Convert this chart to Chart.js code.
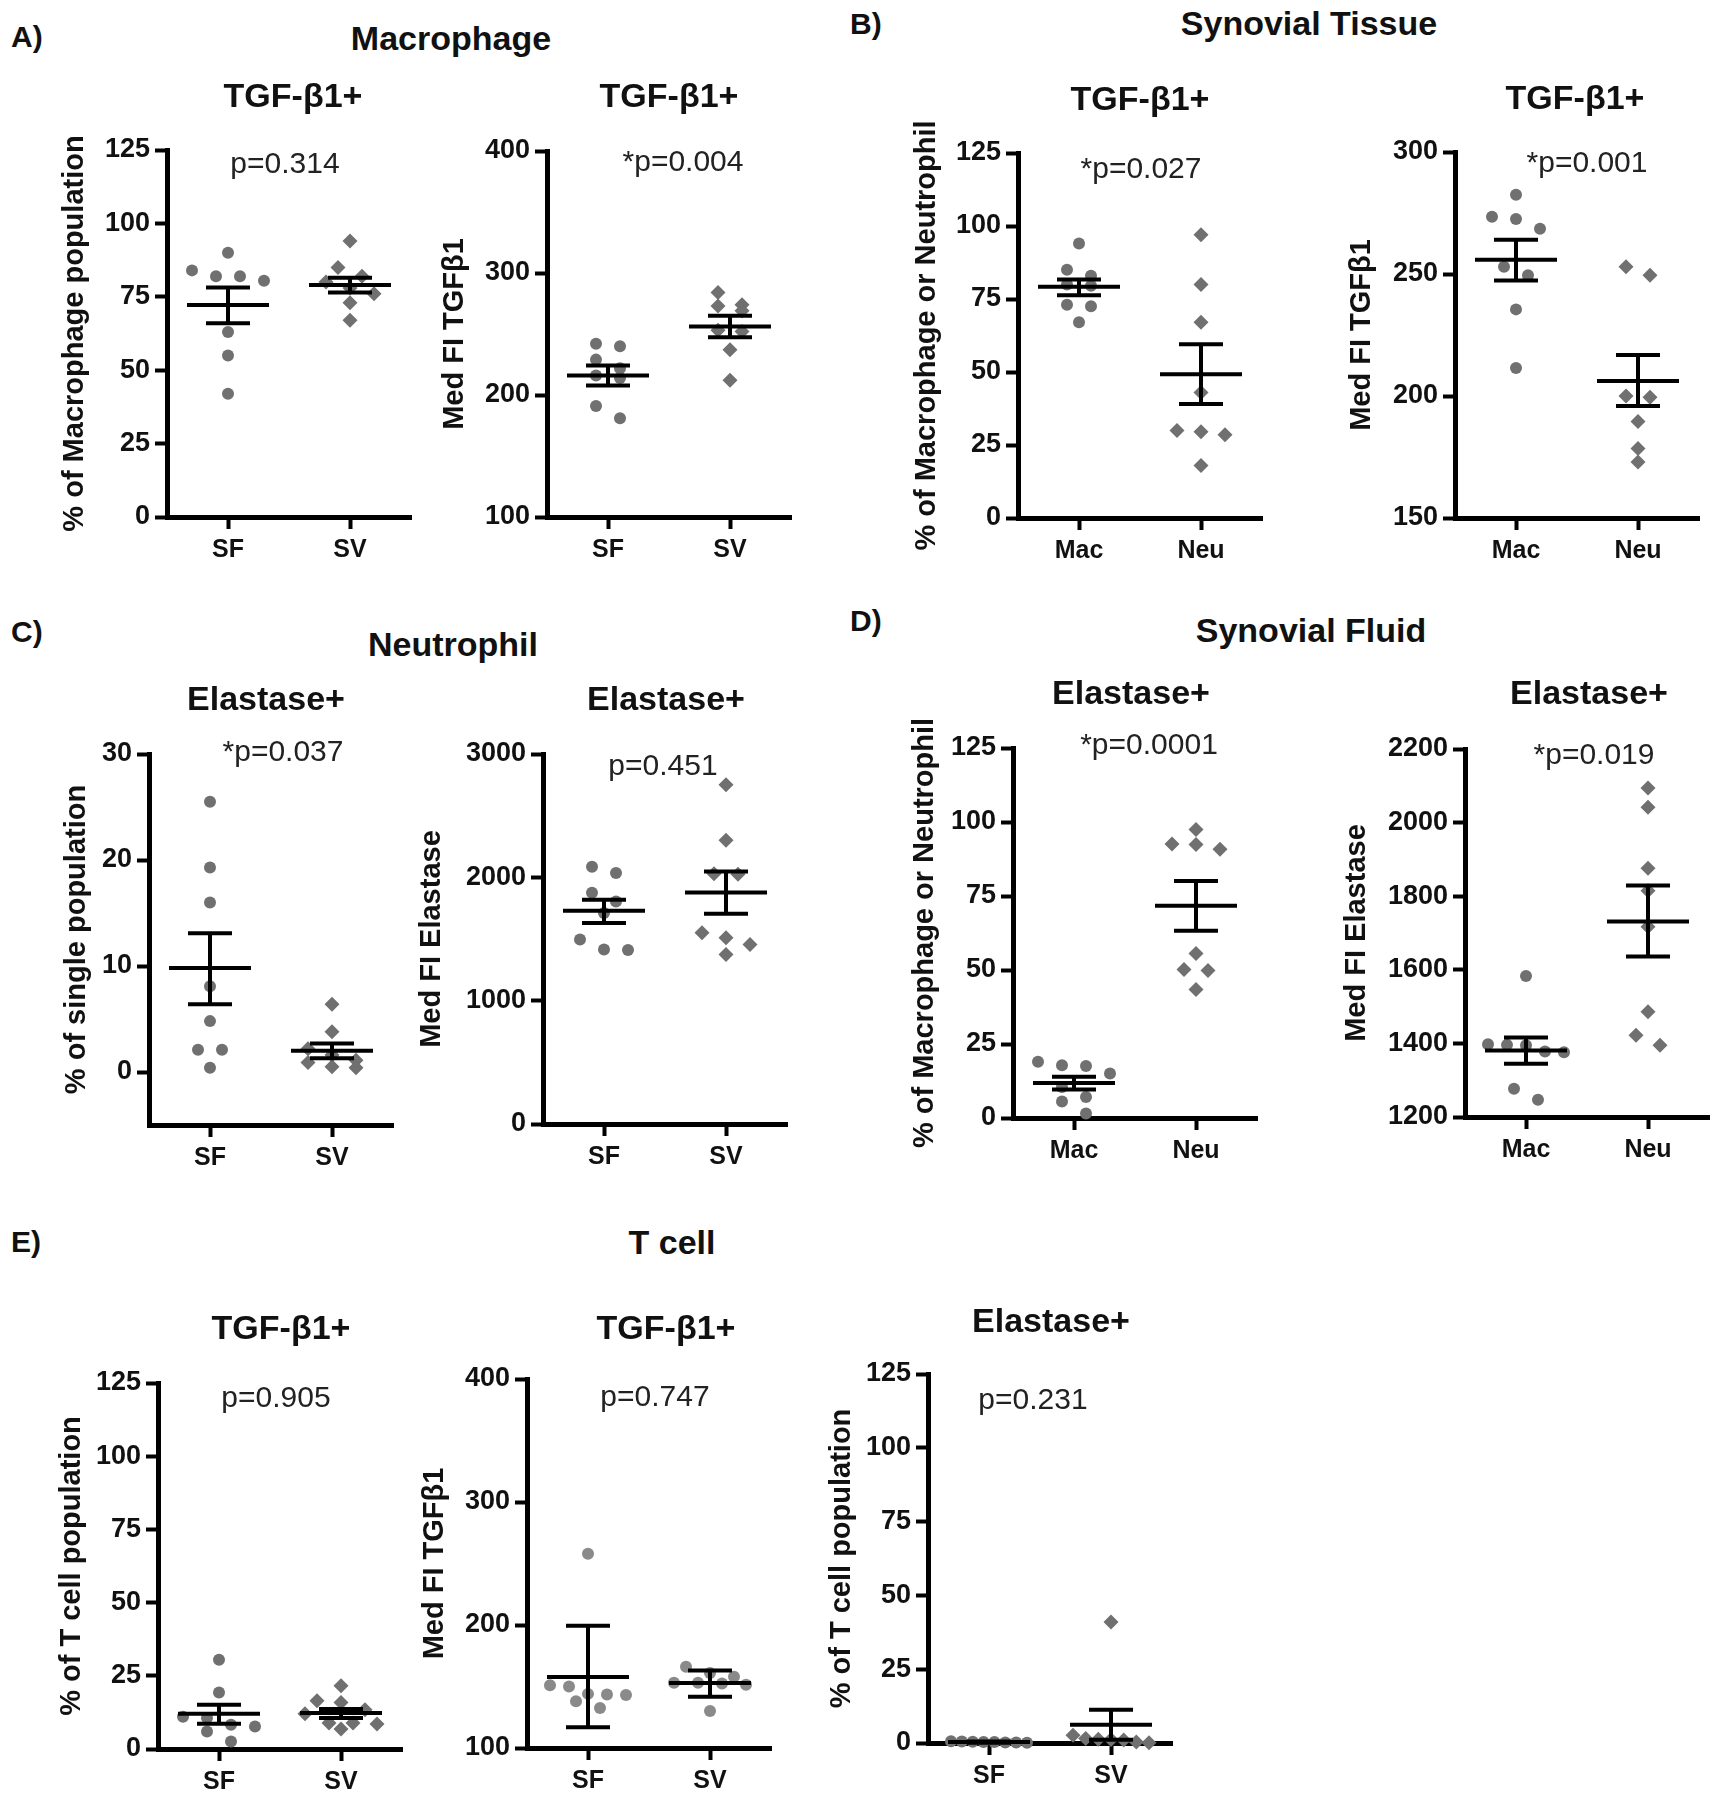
<!DOCTYPE html>
<html>
<head>
<meta charset="utf-8">
<script src="https://cdn.jsdelivr.net/npm/chart.js@4.4.0/dist/chart.umd.min.js"></script>
<style>
  body { margin: 0; background: #fff; }
  #fig { position: relative; width: 1720px; height: 1800px; overflow: hidden;
         font-family: "Liberation Sans", Arial, sans-serif; color: #111; }
  .lbl { position: absolute; white-space: nowrap; line-height: 1; transform: translate(-50%, -50%); }
  .letter { font-size: 30px; font-weight: bold; transform: translate(0, -50%); }
  .group { font-size: 34px; font-weight: bold; }
  .ptitle { font-size: 34px; font-weight: bold; }
  .pval { font-size: 30px; color: #222; }
  canvas { position: absolute; }
</style>
</head>
<body>
<div id="fig"></div>
<script>
// categories
const sfSv = ['SF', 'SV'];
const macNeu = ['Mac', 'Neu'];

// y tick labels
const pctTicks = [0, 25, 50, 75, 100, 125];
const mfiTgfTicks = [100, 200, 300, 400];
const stMfiTicks = [150, 200, 250, 300];
const singleTicks = [0, 10, 20, 30];
const elaTicks = [0, 1000, 2000, 3000];
const sfElaTicks = [1200, 1400, 1600, 1800, 2000, 2200];

// A) macrophage TGF-b1+ %
const macPctSF = [90, 84, 82, 82, 80.5, 63, 55, 42];
const macPctSV = [94, 85, 82, 80, 78, 76, 73, 67];
const macPctMean = [72.2, 79.0];
const macPctErr = [[66.0, 78.2], [76.5, 81.5]];
// A) macrophage TGF-b1 MFI
const macMfiSF = [242, 240, 229, 222, 216, 214, 191, 181];
const macMfiSV = [284, 274, 273, 269, 253, 252, 237, 212];
const macMfiMean = [216, 256.2];
const macMfiErr = [[207.8, 224.2], [247.4, 264.9]];
// B) synovial tissue TGF-b1+ %
const stPctMac = [94, 85, 83, 80, 79.5, 73, 72.5, 67];
const stPctNeu = [97, 80, 67, 43, 30, 29.5, 28.5, 18];
const stPctMean = [79.2, 49.2];
const stPctErr = [[76.3, 81.7], [39, 59.5]];
// B) synovial tissue TGF-b1 MFI
const stMfiMac = [282.5, 273.5, 272.5, 268.5, 253, 249.5, 235.5, 211.5];
const stMfiNeu = [253, 249.5, 200, 199.5, 189.5, 178.5, 173];
const stMfiMean = [255.8, 206.1];
const stMfiErr = [[247.3, 264], [195.9, 216.8]];
// C) neutrophil elastase+ %
const neuPctSF = [25.5, 19.3, 16, 8.1, 4.8, 2.1, 2.1, 0.4];
const neuPctSV = [6.4, 3.8, 2.2, 1.6, 1.1, 0.9, 0.5, 0.4];
const neuPctMean = [9.8, 2.0];
const neuPctErr = [[6.4, 13.1], [1.3, 2.7]];
// C) neutrophil elastase MFI
const neuMfiSF = [2085, 2035, 1875, 1805, 1710, 1495, 1415, 1410];
const neuMfiSV = [2750, 2300, 2030, 2025, 1550, 1510, 1455, 1375];
const neuMfiMean = [1729, 1878];
const neuMfiErr = [[1630, 1819], [1705, 2048]];
// D) synovial fluid elastase+ %
const sfPctMac = [19, 17.8, 17.6, 15, 10.5, 7.1, 5.6, 1.5];
const sfPctNeu = [97.5, 92.6, 92.4, 90.8, 55.6, 50.2, 49.8, 43.4];
const sfPctMean = [11.8, 71.7];
const sfPctErr = [[9.6, 13.9], [63.3, 80.1]];
// D) synovial fluid elastase MFI
const sfMfiMac = [1583, 1398, 1396, 1395, 1378, 1376, 1277, 1247];
const sfMfiNeu = [2094, 2042, 1876, 1815, 1717, 1486, 1422, 1395];
const sfMfiMean = [1381, 1731];
const sfMfiErr = [[1345, 1416], [1636, 1829]];
// E) T cell TGF-b1+ %
const tPctSF = [30.5, 19.3, 11, 10.6, 8.3, 7.7, 6.0, 2.6];
const tPctSV = [21.6, 16.5, 15.9, 13.4, 12, 8.9, 8.9, 8.5, 6.8];
const tPctMean = [12.0, 12.3];
const tPctErr = [[8.6, 15.1], [10.6, 13.7]];
// E) T cell TGF-b1 MFI
const tMfiSF = [258, 151, 150, 144, 143.5, 143, 138, 132.5];
const tMfiSV = [166, 161, 158, 153, 153, 152.5, 151.5, 130];
const tMfiMean = [157.7, 152.8];
const tMfiErr = [[116.8, 199.4], [141.7, 163]];
// E) T cell elastase+ %
const tElaSF = [0.6, 0.5, 0.4, 0.3, 0.3, 0.2, 0.2, 0.1];
const tElaSV = [41, 2.6, 1.5, 1.3, 1.2, 1.0, 0.3, 0.1];
const tElaMean = [0.3, 6.2];
const tElaErr = [[0.1, 0.5], [1.1, 11.3]];

const panels = [
  { axisX: 167, top: 150, bottom: 517, yMin: 0, yMax: 125, ticks: pctTicks, yTitle: '% of Macrophage population', titleOff: 92,
    cats: sfSv, groups: [macPctSF, macPctSV], mean: macPctMean, err: macPctErr,
    title: 'TGF-β1+', tx: 293, ty: 95, p: 'p=0.314', px: 285, py: 163 },
  { axisX: 547, top: 151, bottom: 517, yMin: 100, yMax: 400, ticks: mfiTgfTicks, yTitle: 'Med FI TGFβ1', titleOff: 92,
    cats: sfSv, groups: [macMfiSF, macMfiSV], mean: macMfiMean, err: macMfiErr,
    title: 'TGF-β1+', tx: 669, ty: 95, p: '*p=0.004', px: 683, py: 161 },
  { axisX: 1018, top: 153, bottom: 518, yMin: 0, yMax: 125, ticks: pctTicks, yTitle: '% of Macrophage or Neutrophil', titleOff: 91,
    cats: macNeu, groups: [stPctMac, stPctNeu], mean: stPctMean, err: stPctErr,
    title: 'TGF-β1+', tx: 1140, ty: 98, p: '*p=0.027', px: 1141, py: 168 },
  { axisX: 1455, top: 152, bottom: 518, yMin: 150, yMax: 300, ticks: stMfiTicks, yTitle: 'Med FI TGFβ1', titleOff: 93,
    cats: macNeu, groups: [stMfiMac, stMfiNeu], mean: stMfiMean, err: stMfiErr,
    title: 'TGF-β1+', tx: 1575, ty: 97, p: '*p=0.001', px: 1587, py: 162 },
  { axisX: 149, top: 754, bottom: 1125, yMin: -5, yMax: 30, ticks: singleTicks, yTitle: '% of single population', titleOff: 72,
    cats: sfSv, groups: [neuPctSF, neuPctSV], mean: neuPctMean, err: neuPctErr,
    title: 'Elastase+', tx: 266, ty: 698, p: '*p=0.037', px: 283, py: 751 },
  { axisX: 543, top: 754, bottom: 1124, yMin: 0, yMax: 3000, ticks: elaTicks, yTitle: 'Med FI Elastase', titleOff: 111,
    cats: sfSv, groups: [neuMfiSF, neuMfiSV], mean: neuMfiMean, err: neuMfiErr,
    title: 'Elastase+', tx: 666, ty: 698, p: 'p=0.451', px: 663, py: 765 },
  { axisX: 1013, top: 748, bottom: 1118, yMin: 0, yMax: 125, ticks: pctTicks, yTitle: '% of Macrophage or Neutrophil', titleOff: 88,
    cats: macNeu, groups: [sfPctMac, sfPctNeu], mean: sfPctMean, err: sfPctErr,
    title: 'Elastase+', tx: 1131, ty: 692, p: '*p=0.0001', px: 1149, py: 744 },
  { axisX: 1465, top: 749, bottom: 1117, yMin: 1200, yMax: 2200, ticks: sfElaTicks, yTitle: 'Med FI Elastase', titleOff: 108,
    cats: macNeu, groups: [sfMfiMac, sfMfiNeu], mean: sfMfiMean, err: sfMfiErr,
    title: 'Elastase+', tx: 1589, ty: 692, p: '*p=0.019', px: 1594, py: 754 },
  { axisX: 158, top: 1383, bottom: 1749, yMin: 0, yMax: 125, ticks: pctTicks, yTitle: '% of T cell population', titleOff: 86,
    cats: sfSv, groups: [tPctSF, tPctSV], mean: tPctMean, err: tPctErr,
    title: 'TGF-β1+', tx: 281, ty: 1327, p: 'p=0.905', px: 276, py: 1397 },
  { axisX: 527, top: 1379, bottom: 1748, yMin: 100, yMax: 400, ticks: mfiTgfTicks, yTitle: 'Med FI TGFβ1', titleOff: 92,
    cats: sfSv, groups: [tMfiSF, tMfiSV], mean: tMfiMean, err: tMfiErr, shapes: ['circle', 'circle'], color: '#8a8a8a',
    title: 'TGF-β1+', tx: 666, ty: 1327, p: 'p=0.747', px: 655, py: 1396 },
  { axisX: 928, top: 1374, bottom: 1743, yMin: 0, yMax: 125, ticks: pctTicks, yTitle: '% of T cell population', titleOff: 86,
    cats: sfSv, groups: [tElaSF, tElaSV], mean: tElaMean, err: tElaErr,
    title: 'Elastase+', tx: 1051, ty: 1320, p: 'p=0.231', px: 1033, py: 1399 }
];

const texts = [
  { t: 'A)', x: 11, y: 37, cls: 'letter' },
  { t: 'Macrophage', x: 451, y: 38, cls: 'group' },
  { t: 'B)', x: 850, y: 24, cls: 'letter' },
  { t: 'Synovial Tissue', x: 1309, y: 23, cls: 'group' },
  { t: 'C)', x: 11, y: 632, cls: 'letter' },
  { t: 'Neutrophil', x: 453, y: 644, cls: 'group' },
  { t: 'D)', x: 850, y: 621, cls: 'letter' },
  { t: 'Synovial Fluid', x: 1311, y: 630, cls: 'group' },
  { t: 'E)', x: 11, y: 1242, cls: 'letter' },
  { t: 'T cell', x: 672, y: 1242, cls: 'group' }
];

const fig = document.getElementById('fig');
function addText(t, x, y, cls) {
  const d = document.createElement('div');
  d.className = 'lbl ' + cls;
  d.textContent = t;
  d.style.left = x + 'px';
  d.style.top = y + 'px';
  fig.appendChild(d);
}
texts.forEach(o => addText(o.t, o.x, o.y, o.cls));

Chart.defaults.font.family = '"Liberation Sans", Arial, sans-serif';
Chart.defaults.color = '#111';

const X_PX = 122;      // pixels per category step
const PAD_TOP = 60;
const X_H = 50;

// spread points of similar value side by side, like a column scatter
function swarm(values, pxPerUnit) {
  const order = values.map((v, i) => i).sort((a, b) => values[b] - values[a]);
  const offs = new Array(values.length).fill(0);
  let k = 0;
  while (k < order.length) {
    const head = values[order[k]];
    let j = k;
    while (j < order.length && (head - values[order[j]]) * pxPerUnit < 13) j++;
    const n = j - k;
    const gap = n > 1 ? Math.min(24, 76 / (n - 1)) : 0;
    for (let m = 0; m < n; m++) offs[order[k + m]] = (m - (n - 1) / 2) * gap / X_PX;
    k = j;
  }
  return offs;
}

function meanSemBars(mean, err) {
  return {
    id: 'meanSemBars',
    afterDatasetsDraw(chart) {
      const { ctx, scales: { x, y } } = chart;
      ctx.save();
      ctx.strokeStyle = '#000';
      ctx.lineWidth = 4;
      mean.forEach((m, i) => {
        const px = x.getPixelForValue(i + 1);
        const yl = y.getPixelForValue(err[i][0]);
        const yh = y.getPixelForValue(err[i][1]);
        const ym = y.getPixelForValue(m);
        ctx.beginPath();
        ctx.moveTo(px, yl); ctx.lineTo(px, yh);
        ctx.moveTo(px - 22, yl); ctx.lineTo(px + 22, yl);
        ctx.moveTo(px - 22, yh); ctx.lineTo(px + 22, yh);
        ctx.moveTo(px - 41, ym); ctx.lineTo(px + 41, ym);
        ctx.stroke();
      });
      ctx.restore();
    }
  };
}

panels.forEach(p => {
  const yw = p.titleOff + 21;
  const cv = document.createElement('canvas');
  const w = yw + 2 * X_PX + 12;
  const h = PAD_TOP + (p.bottom - p.top) + X_H;
  cv.width = w; cv.height = h;
  cv.style.width = w + 'px'; cv.style.height = h + 'px';
  cv.style.left = (p.axisX - yw) + 'px';
  cv.style.top = (p.top - PAD_TOP) + 'px';
  fig.appendChild(cv);

  addText(p.title, p.tx, p.ty, 'ptitle');
  addText(p.p, p.px, p.py, 'pval');

  const pxPerY = (p.bottom - p.top) / (p.yMax - p.yMin);
  const shapes = p.shapes || ['circle', 'rectRot'];
  const color = p.color || '#707070';
  const datasets = p.groups.map((vals, g) => {
    const offs = swarm(vals, pxPerY);
    return {
      data: vals.map((v, i) => ({ x: g + 1 + offs[i], y: v })),
      pointStyle: shapes[g],
      pointRadius: shapes[g] === 'circle' ? 6 : 7.5,
      backgroundColor: color,
      borderWidth: 0,
      clip: false
    };
  });

  new Chart(cv.getContext('2d'), {
    type: 'scatter',
    data: { datasets },
    options: {
      responsive: false,
      animation: false,
      layout: { padding: { top: PAD_TOP, right: 12, left: 0, bottom: 0 } },
      plugins: { legend: { display: false }, tooltip: { enabled: false } },
      scales: {
        x: {
          type: 'linear', min: 0.5, max: 2.5,
          afterBuildTicks: s => { s.ticks = [{ value: 1 }, { value: 2 }]; },
          afterFit: s => { s.height = X_H; },
          ticks: { callback: v => p.cats[Math.round(v) - 1], font: { size: 25, weight: 'bold' }, color: '#111', padding: 6, maxRotation: 0 },
          grid: { drawOnChartArea: false, tickLength: 12, tickWidth: 4, color: '#000' },
          border: { width: 5, color: '#000' }
        },
        y: {
          min: p.yMin, max: p.yMax,
          afterBuildTicks: s => { s.ticks = p.ticks.map(v => ({ value: v })); },
          afterFit: s => { s.width = yw; },
          ticks: { callback: v => String(v), font: { size: 27, weight: 'bold' }, color: '#111', padding: 5 },
          grid: { drawOnChartArea: false, tickLength: 12, tickWidth: 4, color: '#000' },
          border: { width: 5, color: '#000' },
          title: { display: true, text: p.yTitle, font: { size: 29, weight: 'bold' }, color: '#111', padding: { top: 4, bottom: 4 } }
        }
      }
    },
    plugins: [meanSemBars(p.mean, p.err)]
  });
});
</script>
</body>
</html>
